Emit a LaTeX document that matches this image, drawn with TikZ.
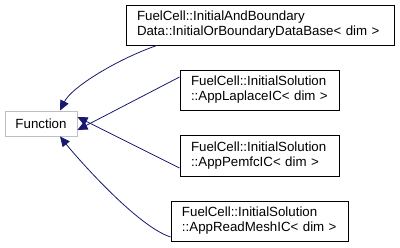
\documentclass[tikz,border=0pt]{standalone}
\usepackage{fontspec}
\setmainfont{Liberation Sans}
\usetikzlibrary{arrows.meta}
\definecolor{edgeblue}{HTML}{191970}
\definecolor{basegray}{HTML}{BFBFBF}
\hbadness=10000 \hfuzz=20pt
\begin{document}
\begin{tikzpicture}[x=1pt,y=-1pt,
  cls/.style={draw=black, fill=white, line width=0.9pt, inner xsep=11pt, inner ysep=0pt,
    align=left, font=\fontsize{13.3}{15}\selectfont},
  base/.style={draw=basegray, fill=white, line width=0.9pt, inner sep=0pt,
    minimum width=72pt, minimum height=25pt, font=\fontsize{13.3}{15}\selectfont},
  inh/.style={draw=edgeblue, line width=0.8pt,
    {Triangle[length=10pt,width=9pt,fill=edgeblue]}-}]
\useasboundingbox (0,0) rectangle (400,247);

\node[base] (f) at (41,123.5) {Function};

\node[cls, minimum width=268pt, minimum height=40pt, text width=246pt] (b1) at (260,25)
  {\mbox{FuelCell::InitialAndBoundary}\\\mbox{Data::InitialOrBoundaryDataBase< dim >}};
\node[cls, minimum width=159pt, minimum height=40pt, text width=137pt] (b2) at (259.5,90)
  {\mbox{FuelCell::InitialSolution}\\\mbox{::AppLaplaceIC< dim >}};
\node[cls, minimum width=159pt, minimum height=41pt, text width=137pt] (b3) at (259.5,155.5)
  {\mbox{FuelCell::InitialSolution}\\\mbox{::AppPemfcIC< dim >}};
\node[cls, minimum width=177pt, minimum height=40pt, text width=155pt] (b4) at (259.5,221)
  {\mbox{FuelCell::InitialSolution}\\\mbox{::AppReadMeshIC< dim >}};

% inheritance edges, arrow at the base class
\draw[inh] ([xshift=19pt]f.north) .. controls +(12,-24) and +(-38,13) .. ([xshift=-103pt]b1.south);
\draw[inh] ([yshift=-6.5pt]f.east) -- ([yshift=13pt]b2.west);
\draw[inh] ([yshift=6.5pt]f.east) -- ([yshift=-12.5pt]b3.west);
\draw[inh] ([xshift=19pt]f.south) .. controls +(16,20) and +(-34,-11) .. ([yshift=-16pt]b4.west);
\end{tikzpicture}
\end{document}
